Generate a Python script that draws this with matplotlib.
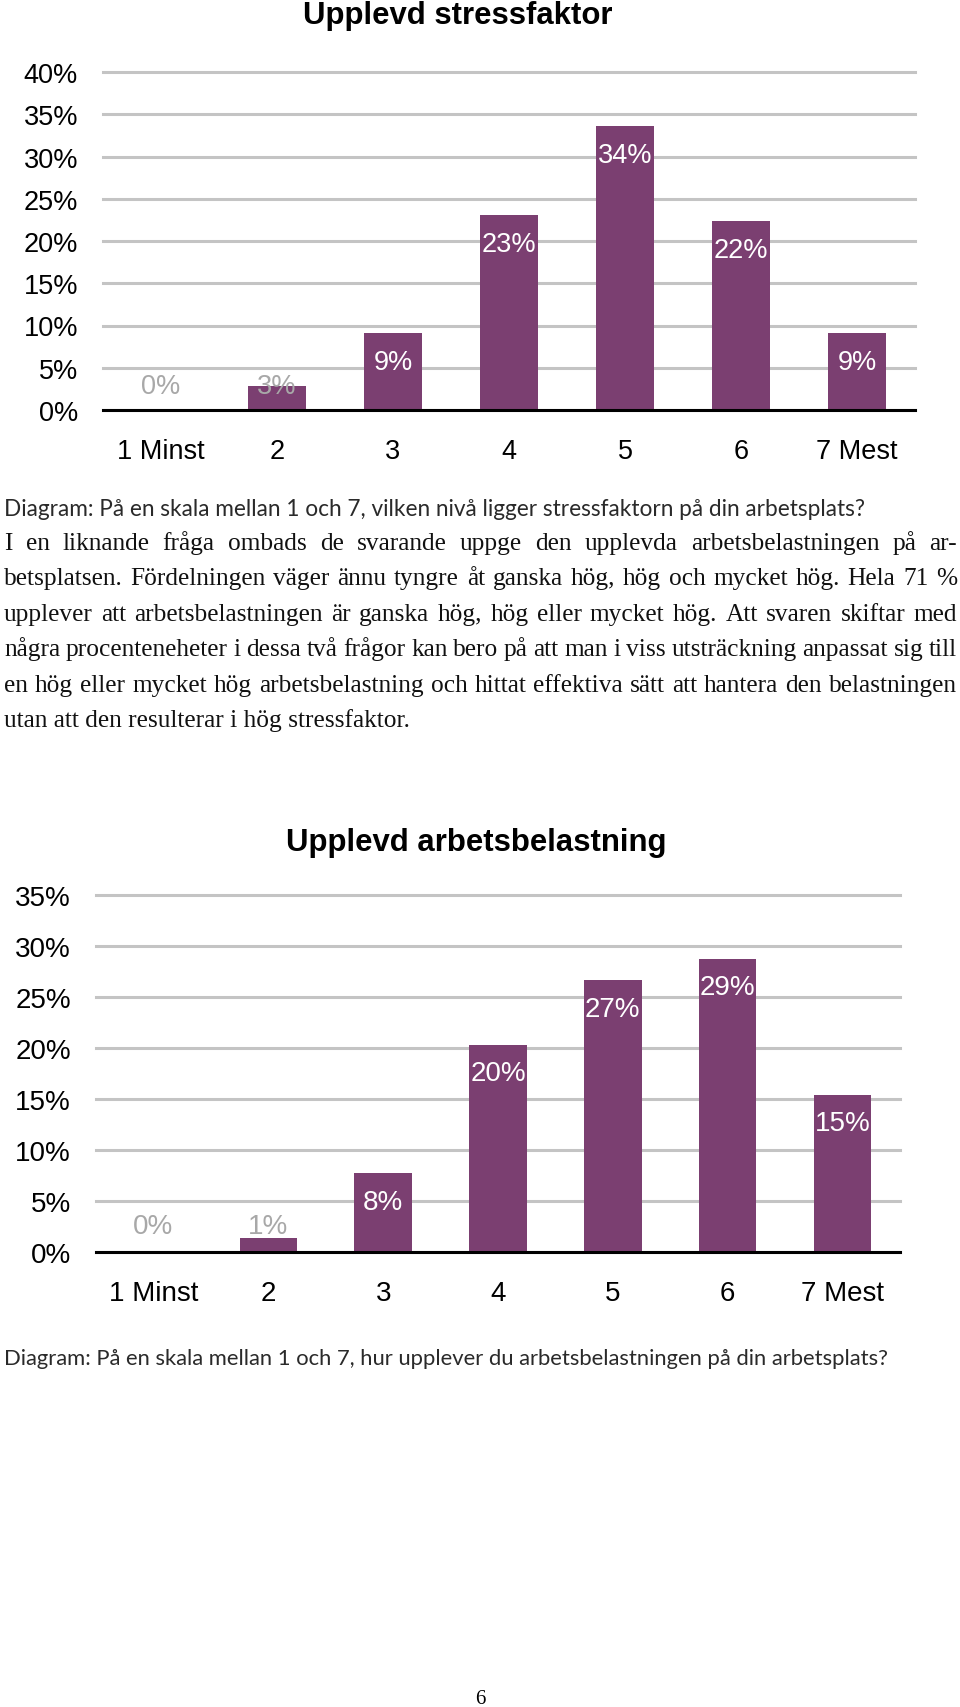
import matplotlib
matplotlib.use("Agg")
import matplotlib.pyplot as plt

W, H = 960, 1708

# chart 1: stressfaktor
cats = ["1 Minst", "2", "3", "4", "5", "6", "7 Mest"]
stress = [0, 2.8, 9.1, 23.1, 33.6, 22.4, 9.1]
stress_ticks = [0, 5, 10, 15, 20, 25, 30, 35, 40]

# chart 2: arbetsbelastning
belast = [0, 1.4, 7.7, 20.3, 26.6, 28.7, 15.4]
belast_ticks = [0, 5, 10, 15, 20, 25, 30, 35]

title1 = "Upplevd stressfaktor"
title2 = "Upplevd arbetsbelastning"
caption1 = "Diagram: På en skala mellan 1 och 7, vilken nivå ligger stressfaktorn på din arbetsplats?"
caption2 = "Diagram: På en skala mellan 1 och 7, hur upplever du arbetsbelastningen på din arbetsplats?"
body = [
    "I en liknande fråga ombads de svarande uppge den upplevda arbetsbelastningen på ar-",
    "betsplatsen. Fördelningen väger ännu tyngre åt ganska hög, hög och mycket hög. Hela 71 %",
    "upplever att arbetsbelastningen är ganska hög, hög eller mycket hög. Att svaren skiftar med",
    "några procenteneheter i dessa två frågor kan bero på att man i viss utsträckning anpassat sig till",
    "en hög eller mycket hög arbetsbelastning och hittat effektiva sätt att hantera den belastningen",
    "utan att den resulterar i hög stressfaktor.",
]

BAR = "#7b3f71"
GRID = "#c4c4c4"
GRAY = "#a8a8a8"

plt.rcParams["font.family"] = ["Liberation Sans", "DejaVu Sans"]

fig = plt.figure(figsize=(W / 100, H / 100), dpi=100)


def px_axes(left, right, top, bottom):
    return fig.add_axes([left / W, 1 - bottom / H, (right - left) / W, (bottom - top) / H])


def bar_chart(ax, values, ticks, size, in_off, low_off):
    x = range(len(values))
    ax.bar(x, values, width=0.5, color=BAR, zorder=2)
    ax.set_xlim(-0.5, len(values) - 0.5)
    ax.set_ylim(0, ticks[-1])
    ax.set_yticks(ticks)
    ax.set_yticklabels([f"{t}%" for t in ticks])
    ax.set_xticks(list(x))
    ax.set_xticklabels(cats)
    for s in ax.spines.values():
        s.set_visible(False)
    ax.tick_params(axis="both", length=0, labelsize=size)
    ax.tick_params(axis="y", pad=18)
    ax.tick_params(axis="x", pad=20)
    ax.grid(axis="y", color=GRID, lw=2.2, zorder=0)
    ax.grid(axis="x", visible=False)
    for gl in ax.get_ygridlines():
        gl.set_clip_on(False)
    ax.axhline(0, color="black", lw=2.2, zorder=3, clip_on=False)
    for i, v in enumerate(values):
        lab = f"{v:.0f}%"
        if v < 5:
            ax.annotate(lab, (i, 0), xytext=(0, low_off), textcoords="offset points",
                        ha="center", va="center", color=GRAY, fontsize=size, zorder=4)
        else:
            ax.annotate(lab, (i, v), xytext=(0, -in_off), textcoords="offset points",
                        ha="center", va="center", color="white", fontsize=size, zorder=4)


ax1 = px_axes(103, 915, 73, 411)
bar_chart(ax1, stress, stress_ticks, 19.5, 21, 17)
fig.text(458 / W, 1 - 24 / H, title1, ha="center", va="baseline", fontsize=22.4, fontweight="bold")

ax2 = px_axes(96, 900, 895.7, 1253)
bar_chart(ax2, belast, belast_ticks, 20, 20.5, 18.5)
fig.text(476 / W, 1 - 851 / H, title2, ha="center", va="baseline", fontsize=22.4, fontweight="bold")

cap_kw = dict(family=["Lato", "DejaVu Sans"], va="baseline", color="#2a2a2a")
fig.text(4 / W, 1 - 516 / H, caption1, fontsize=16.3, **cap_kw)
fig.text(4 / W, 1 - 1365 / H, caption2, fontsize=15.8, **cap_kw)

# justified body text
body_kw = dict(fontsize=18.3, family=["Liberation Serif", "DejaVu Serif"], va="baseline", color="#111111")
renderer = fig.canvas.get_renderer()
x0, x1 = 4, 957
y = 550
for n, line in enumerate(body):
    if n == len(body) - 1:
        fig.text(x0 / W, 1 - y / H, line, **body_kw)
    else:
        words = line.split()
        widths = []
        for w in words:
            t = fig.text(0, 0, w, **body_kw)
            widths.append(t.get_window_extent(renderer).width)
            t.remove()
        gap = (x1 - x0 - sum(widths)) / (len(words) - 1)
        xp = x0
        for w, wd in zip(words, widths):
            fig.text(xp / W, 1 - y / H, w, **body_kw)
            xp += wd + gap
    y += 35.4

fig.text(480 / W, 1 - 1704 / H, "6", ha="center", va="baseline", fontsize=15,
         family=["Liberation Serif", "DejaVu Serif"])

fig.savefig("out.png", dpi=100)
